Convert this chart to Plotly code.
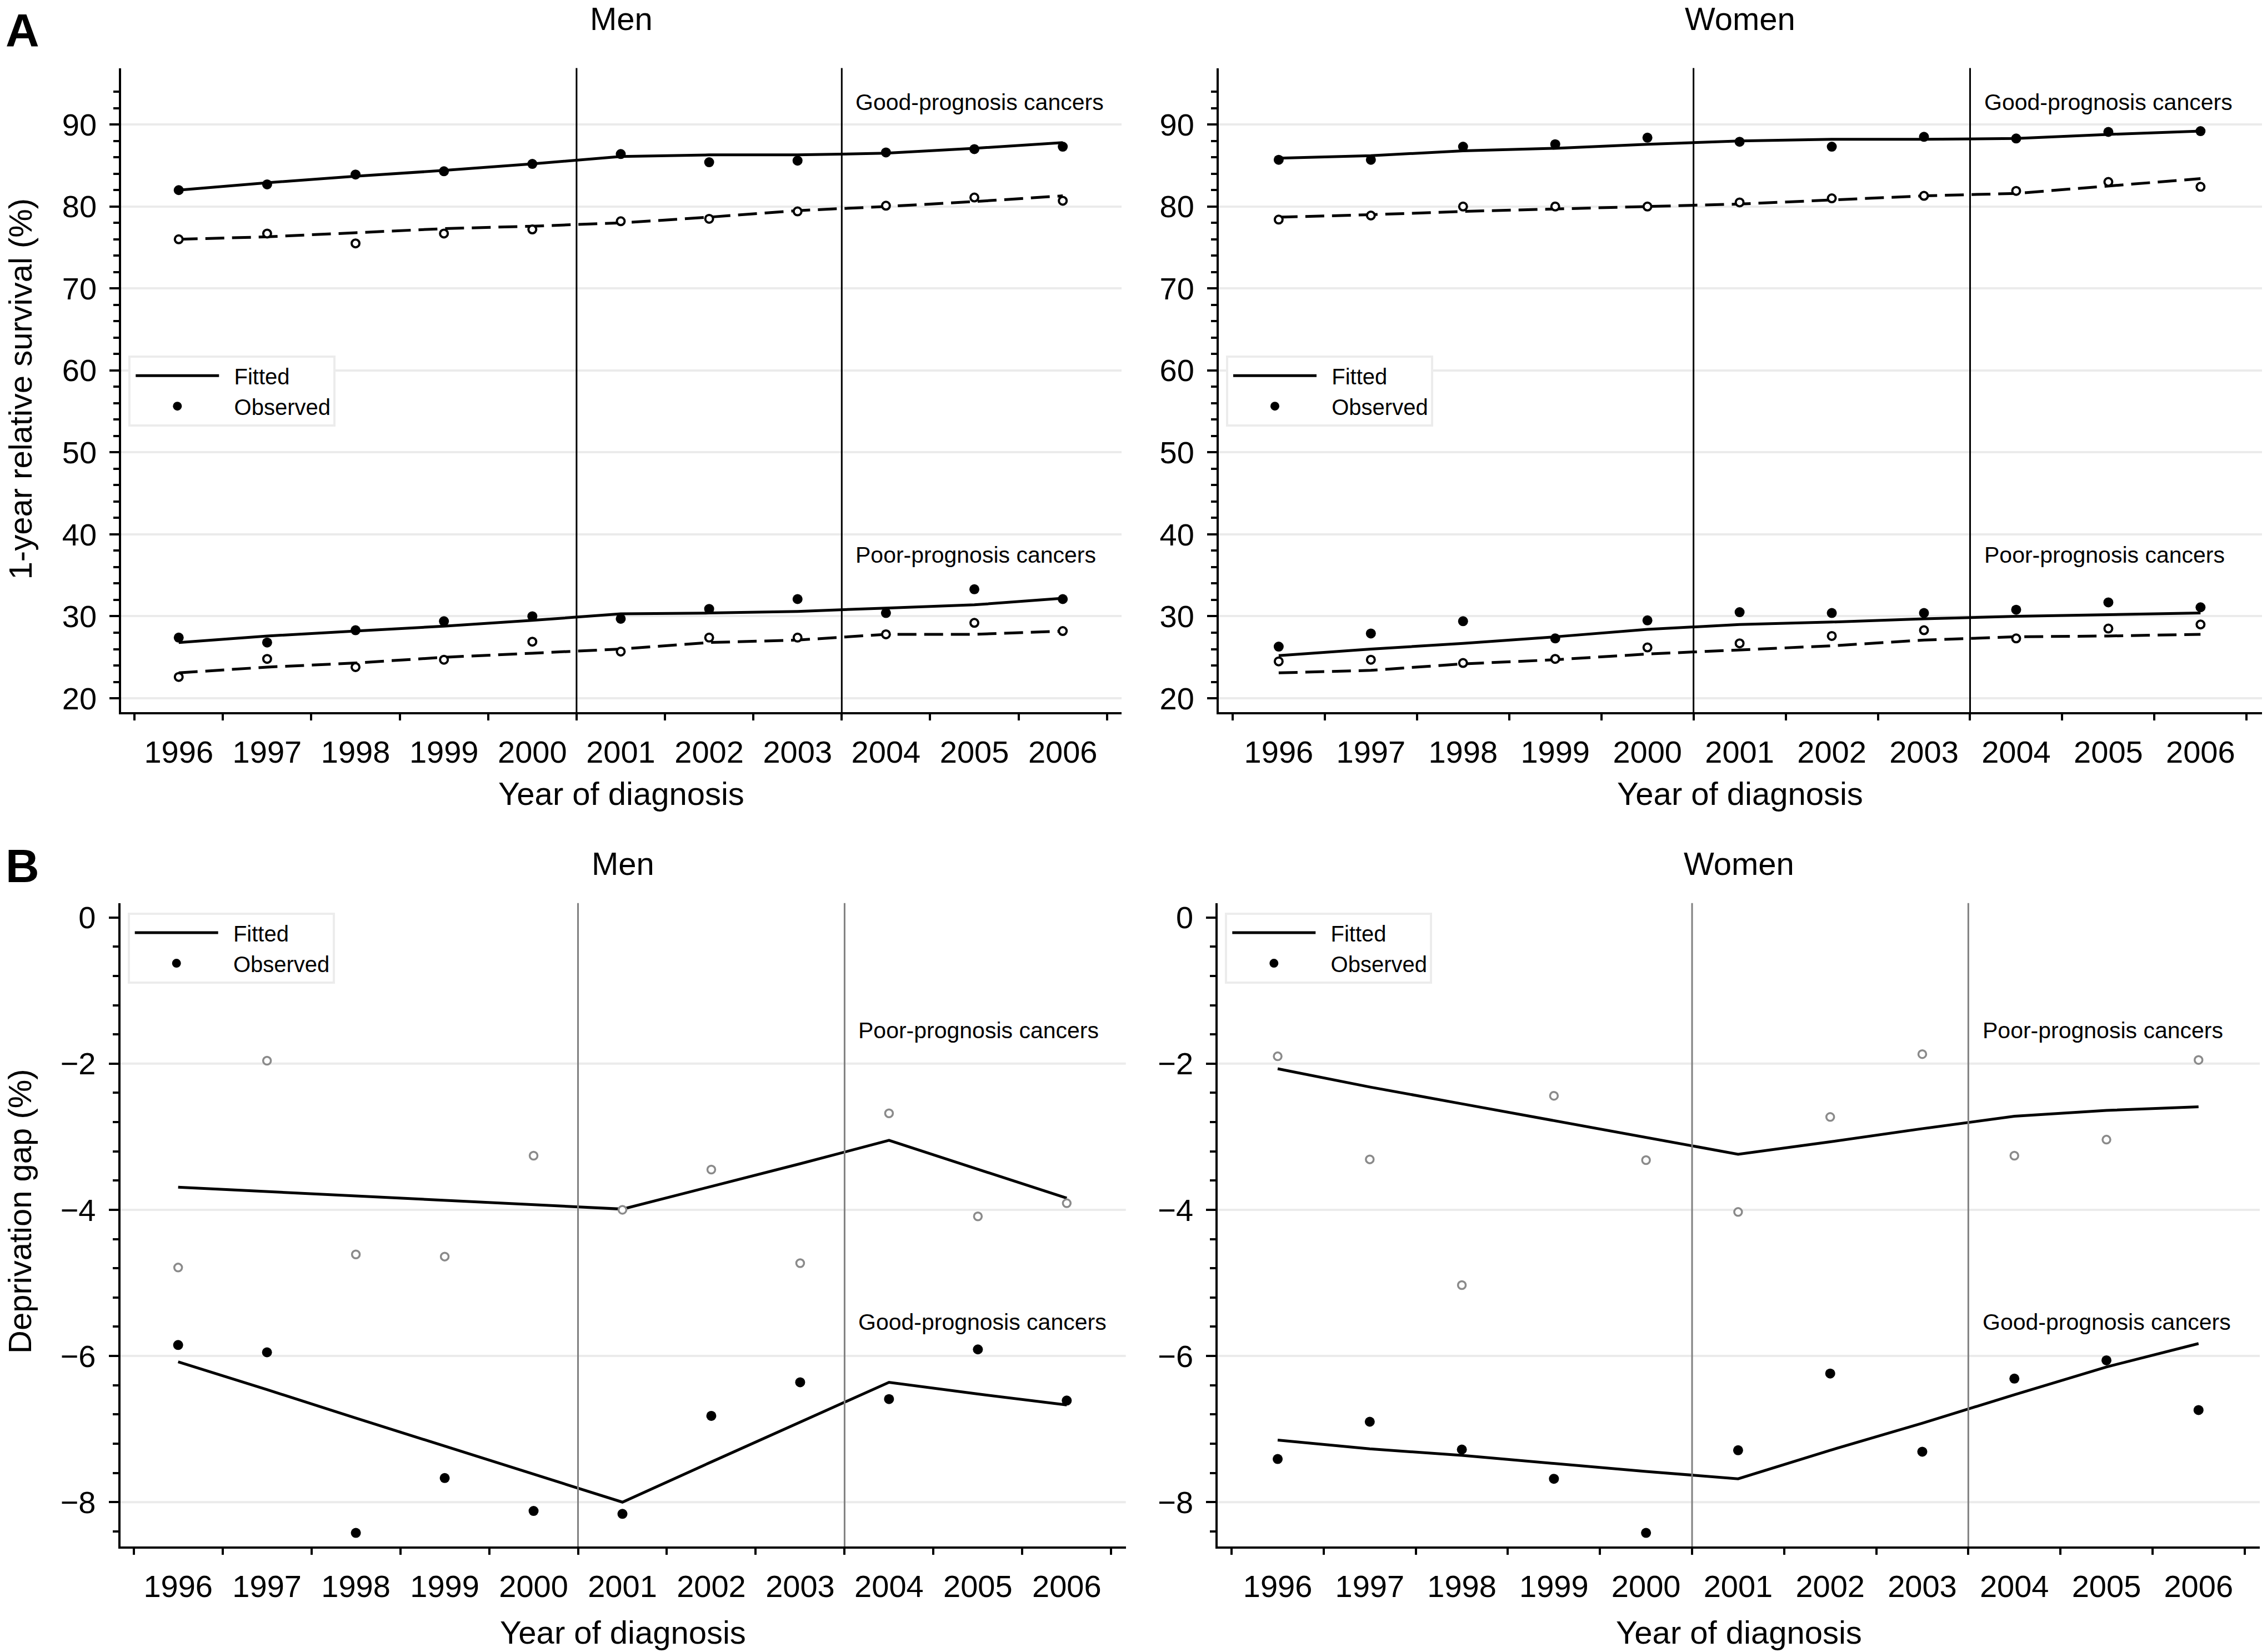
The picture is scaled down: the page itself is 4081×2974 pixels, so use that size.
import plotly.graph_objects as go

# ---------------- data ----------------
YEARS = list(range(1996, 2007))
YEAR_LABELS = [str(y) for y in YEARS]
BREAKS = [2000.5, 2003.5]

# Panel A: 1-year relative survival (%)
men_good_obs = [82.0, 82.7, 83.9, 84.3, 85.2, 86.4, 85.4, 85.6, 86.6, 87.0, 87.3]
men_good_fit = [82.0, 82.9, 83.7, 84.4, 85.2, 86.1, 86.3, 86.3, 86.5, 87.1, 87.8]
men_good_obs_dep = [76.0, 76.7, 75.5, 76.7, 77.2, 78.2, 78.5, 79.4, 80.1, 81.1, 80.7]
men_good_fit_dep = [76.0, 76.3, 76.8, 77.3, 77.6, 78.0, 78.7, 79.5, 80.0, 80.6, 81.3]
men_poor_obs = [27.4, 26.8, 28.3, 29.4, 30.0, 29.7, 30.9, 32.1, 30.4, 33.3, 32.1]
men_poor_fit = [26.8, 27.6, 28.2, 28.8, 29.5, 30.3, 30.4, 30.6, 31.0, 31.4, 32.2]
men_poor_obs_dep = [22.6, 24.8, 23.8, 24.7, 26.9, 25.7, 27.4, 27.4, 27.8, 29.2, 28.2]
men_poor_fit_dep = [23.1, 23.8, 24.3, 25.0, 25.5, 26.0, 26.8, 27.1, 27.8, 27.8, 28.2]

women_good_obs = [85.7, 85.7, 87.3, 87.6, 88.4, 87.9, 87.3, 88.5, 88.3, 89.1, 89.2]
women_good_fit = [85.9, 86.2, 86.8, 87.1, 87.6, 88.0, 88.2, 88.2, 88.3, 88.8, 89.2]
women_good_obs_dep = [78.4, 78.9, 80.0, 80.0, 80.0, 80.5, 81.0, 81.3, 81.9, 83.0, 82.4]
women_good_fit_dep = [78.7, 79.0, 79.4, 79.7, 80.0, 80.3, 80.8, 81.3, 81.6, 82.5, 83.4]
women_poor_obs = [26.3, 27.9, 29.4, 27.3, 29.5, 30.5, 30.4, 30.4, 30.8, 31.7, 31.1]
women_poor_fit = [25.2, 26.0, 26.7, 27.5, 28.4, 29.0, 29.3, 29.7, 30.0, 30.2, 30.4]
women_poor_obs_dep = [24.5, 24.7, 24.3, 24.8, 26.2, 26.7, 27.6, 28.3, 27.3, 28.5, 29.0]
women_poor_fit_dep = [23.1, 23.4, 24.2, 24.7, 25.4, 25.9, 26.4, 27.1, 27.5, 27.6, 27.8]

# Panel B: deprivation gap (%)
men_gap_poor_obs = [-4.79, -1.96, -4.61, -4.64, -3.26, -4.00, -3.45, -4.73, -2.68, -4.09, -3.91]
men_gap_poor_fit = [-3.69, -3.75, -3.81, -3.87, -3.93, -3.99, -3.68, -3.37, -3.05, -3.45, -3.84]
men_gap_good_obs = [-5.85, -5.95, -8.42, -7.67, -8.12, -8.16, -6.82, -6.36, -6.59, -5.91, -6.61]
men_gap_good_fit = [-6.08, -6.46, -6.85, -7.23, -7.62, -8.00, -7.45, -6.91, -6.36, -6.52, -6.67]

women_gap_poor_obs = [-1.90, -3.31, -5.03, -2.44, -3.32, -4.03, -2.73, -1.87, -3.26, -3.04, -1.95]
women_gap_poor_fit = [-2.07, -2.32, -2.55, -2.78, -3.01, -3.24, -3.07, -2.89, -2.72, -2.64, -2.59]
women_gap_good_obs = [-7.41, -6.90, -7.28, -7.68, -8.42, -7.29, -6.24, -7.31, -6.31, -6.06, -6.74]
women_gap_good_fit = [-7.15, -7.27, -7.36, -7.47, -7.58, -7.68, -7.29, -6.92, -6.53, -6.15, -5.83]

A_TICKS = [20, 30, 40, 50, 60, 70, 80, 90]
B_TICKS = [0, -2, -4, -6, -8]
B_TICK_TEXT = ["0", "\u22122", "\u22124", "\u22126", "\u22128"]

# ---------------- layout helpers ----------------
W, H = 4081, 2974
FONT = "Liberation Sans, Arial, Helvetica, sans-serif"
BLACK = "#000000"
GREY_PT = "#8a8a8a"
GRID = "#ebebeb"
GAP = "\u00a0\u00a0"   # small gap between legend symbol and label


def fx(p):
    return p / W


def fy(p):
    return 1 - p / H


XRANGE = [1995.35, 2006.665]
A_RANGE = [18.29, 96.89]
B_RANGE = [-8.606, 0.197]

# pixel boxes of the four plot areas (left, right, top, bottom)
BOX = {
    1: (218.3, 2019.0, 118.0, 1282.0),
    2: (2194.0, 4071.7, 118.0, 1282.0),
    3: (216.7, 2026.7, 1626.7, 2789.3),
    4: (2192.3, 4068.0, 1626.7, 2789.3),
}

fig = go.Figure()


def sfx(i):
    return "" if i == 1 else str(i)


def add_group(i, fit, obs, fit_dash, obs_style, legend_fit=False, legend_obs=False):
    xa, ya = "x" + sfx(i), "y" + sfx(i)
    lg = "legend" + sfx(i)
    fig.add_trace(go.Scatter(
        x=YEARS, y=fit, mode="lines", xaxis=xa, yaxis=ya,
        line=dict(color=BLACK, width=5, dash=fit_dash),
        name=GAP + "Fitted", showlegend=legend_fit, legend=lg, hoverinfo="skip"))
    if obs_style == "filled":
        marker = dict(symbol="circle", size=18, color=BLACK, line=dict(width=0))
    elif obs_style == "open":
        marker = dict(symbol="circle", size=14, color="white", line=dict(width=4, color=BLACK))
    else:
        marker = dict(symbol="circle", size=14, color="white", line=dict(width=3.5, color=GREY_PT))
    return dict(x=YEARS, y=obs, mode="markers", xaxis=xa, yaxis=ya, marker=marker,
                name=GAP + "Observed", showlegend=legend_obs, legend=lg, hoverinfo="skip")


DASH = "34px,14px"
pending = []
# A men
pending.append(add_group(1, men_good_fit_dep, men_good_obs_dep, DASH, "open"))
pending.append(add_group(1, men_poor_fit_dep, men_poor_obs_dep, DASH, "open"))
pending.append(add_group(1, men_poor_fit, men_poor_obs, "solid", "filled"))
pending.append(add_group(1, men_good_fit, men_good_obs, "solid", "filled", True, True))
# A women
pending.append(add_group(2, women_good_fit_dep, women_good_obs_dep, DASH, "open"))
pending.append(add_group(2, women_poor_fit_dep, women_poor_obs_dep, DASH, "open"))
pending.append(add_group(2, women_poor_fit, women_poor_obs, "solid", "filled"))
pending.append(add_group(2, women_good_fit, women_good_obs, "solid", "filled", True, True))
# B men
pending.append(add_group(3, men_gap_poor_fit, men_gap_poor_obs, "solid", "grey"))
pending.append(add_group(3, men_gap_good_fit, men_gap_good_obs, "solid", "filled", True, True))
# B women
pending.append(add_group(4, women_gap_poor_fit, women_gap_poor_obs, "solid", "grey"))
pending.append(add_group(4, women_gap_good_fit, women_gap_good_obs, "solid", "filled", True, True))
for p in pending:
    fig.add_trace(go.Scatter(**p))

tickfont = dict(family=FONT, size=56, color=BLACK)
x_minor = [y - 0.5 for y in YEARS] + [YEARS[-1] + 0.5]
a_minor = [v for v in range(20, 96, 2) if v % 10 != 0]
b_minor = [round(-0.4 * k, 1) for k in range(1, 22) if k % 5 != 0]

layout = dict(
    width=W, height=H, margin=dict(l=0, r=0, t=0, b=0),
    paper_bgcolor="white", plot_bgcolor="white",
    font=dict(family=FONT, color=BLACK),
    showlegend=True,
)

for i in range(1, 5):
    l, r, t, b = BOX[i]
    is_a = i <= 2
    layout["xaxis" + sfx(i)] = dict(
        domain=[fx(l), fx(r)], range=XRANGE, anchor="y" + sfx(i),
        tickmode="array", tickvals=YEARS, ticktext=YEAR_LABELS, ticks="",
        tickfont=tickfont, ticklabelstandoff=20,
        showline=True, linewidth=4, linecolor=BLACK, showgrid=False, zeroline=False,
        minor=dict(tickmode="array", tickvals=x_minor, ticks="outside", ticklen=11,
                   tickwidth=4, tickcolor=BLACK, showgrid=False),
    )
    layout["yaxis" + sfx(i)] = dict(
        domain=[fy(b), fy(t)], range=A_RANGE if is_a else B_RANGE, anchor="x" + sfx(i),
        tickmode="array", tickvals=A_TICKS if is_a else B_TICKS,
        ticktext=[str(v) for v in A_TICKS] if is_a else B_TICK_TEXT,
        ticks="outside", ticklen=17, tickwidth=4, tickcolor=BLACK,
        tickfont=tickfont, ticklabelstandoff=12,
        showline=True, linewidth=4, linecolor=BLACK, zeroline=False,
        showgrid=is_a, gridcolor=GRID, gridwidth=4,
        minor=dict(tickmode="array", tickvals=a_minor if is_a else b_minor,
                   ticks="outside", ticklen=10, tickwidth=4, tickcolor=BLACK, showgrid=False),
    )
    # legends
    layout["legend" + sfx(i)] = dict(
        x=fx(l + 13), y=fy(t + (519 if is_a else 17)), xanchor="left", yanchor="top",
        bgcolor="white", bordercolor="#ececec", borderwidth=4,
        font=dict(family=FONT, size=40, color=BLACK),
        itemwidth=150, indentation=4, tracegroupgap=0, traceorder="normal",
    )

fig.update_layout(**layout)

# reference lines: B gridlines and period breaks
shapes = []
for i in (3, 4):
    for v in B_TICKS[1:]:
        shapes.append(dict(type="line", xref="x%d domain" % i, yref="y%d" % i,
                           x0=0, x1=1, y0=v, y1=v, layer="below",
                           line=dict(color=GRID, width=4)))
for i in range(1, 5):
    for xb in BREAKS:
        shapes.append(dict(type="line", xref="x" + sfx(i), yref="y" + sfx(i) + " domain",
                           x0=xb, x1=xb, y0=0, y1=1, layer="above",
                           line=dict(color=BLACK if i <= 2 else "#808080", width=3)))
fig.update_layout(shapes=shapes)

# text
ann = []


def text(x, y, s, size, xanchor="center", yanchor="middle", angle=0, bold=False):
    ann.append(dict(x=fx(x), y=fy(y), xref="paper", yref="paper", text=("<b>%s</b>" % s) if bold else s,
                    showarrow=False, xanchor=xanchor, yanchor=yanchor, textangle=angle,
                    font=dict(family=FONT, size=size, color=BLACK)))


text(8, 50, "A", 84, xanchor="left", bold=True)
text(8, 1560, "B", 84, xanchor="left", bold=True)
for i, title in ((1, "Men"), (2, "Women"), (3, "Men"), (4, "Women")):
    l, r, t, b = BOX[i]
    cx = (l + r) / 2
    text(cx, 29 if i <= 2 else 1555, title, 58)
    text(cx, 1429 if i <= 2 else 2944, "Year of diagnosis", 58)
text(36, 698, "1-year relative survival (%)", 58, angle=-90)
text(36, 2184, "Deprivation gap (%)", 58, angle=-90)

for i in (1, 2):
    ann.append(dict(x=2003.64, y=92.7, xref="x" + sfx(i), yref="y" + sfx(i), text="Good-prognosis cancers",
                    showarrow=False, xanchor="left", yanchor="middle",
                    font=dict(family=FONT, size=41, color=BLACK)))
    ann.append(dict(x=2003.64, y=37.47, xref="x" + sfx(i), yref="y" + sfx(i), text="Poor-prognosis cancers",
                    showarrow=False, xanchor="left", yanchor="middle",
                    font=dict(family=FONT, size=41, color=BLACK)))
for i in (3, 4):
    ann.append(dict(x=2003.64, y=-1.547, xref="x%d" % i, yref="y%d" % i, text="Poor-prognosis cancers",
                    showarrow=False, xanchor="left", yanchor="middle",
                    font=dict(family=FONT, size=41, color=BLACK)))
    ann.append(dict(x=2003.64, y=-5.537, xref="x%d" % i, yref="y%d" % i, text="Good-prognosis cancers",
                    showarrow=False, xanchor="left", yanchor="middle",
                    font=dict(family=FONT, size=41, color=BLACK)))
fig.update_layout(annotations=ann)

fig.write_html("out.html", config={"displayModeBar": False},
               post_script="document.body.style.margin='0';document.body.style.overflow='hidden';")
